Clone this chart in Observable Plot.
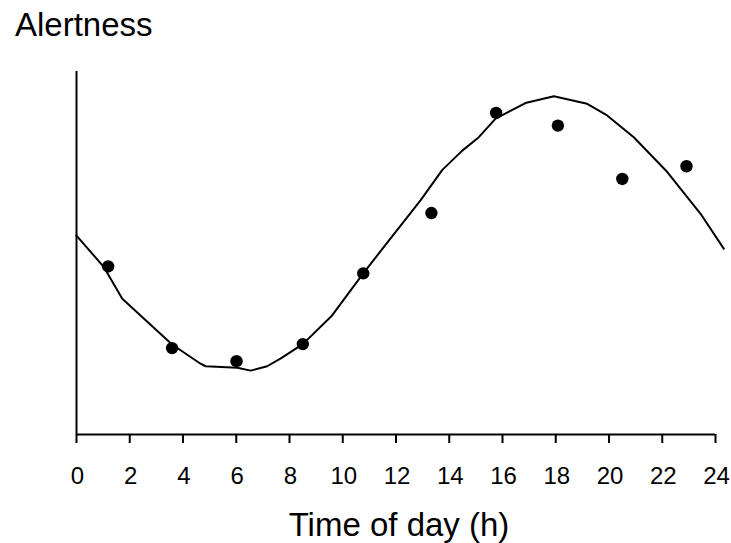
<!DOCTYPE html>
<html>
<head>
<meta charset="utf-8">
<script src="https://cdn.jsdelivr.net/npm/d3@7"></script>
<script src="https://cdn.jsdelivr.net/npm/@observablehq/plot@0.6"></script>
<style>
  html, body { margin: 0; padding: 0; background: #fff; }
  body { width: 731px; height: 543px; overflow: hidden; font-family: "Liberation Sans", Arial, sans-serif; }
  #title { height: 45px; box-sizing: border-box; padding-left: 15px; padding-top: 8px; font-size: 33px; line-height: 1; color: #000; }
  svg { display: block; }
</style>
</head>
<body>
<div id="title">Alertness</div>
<div id="chart"></div>
<script>
// Observed points
const obsHour  = [1.19, 3.59, 6.01, 8.50, 10.77, 13.33, 15.76, 18.08, 20.50, 22.91];
const obsAlert = [46.3, 23.8, 20.2, 24.9, 44.4, 61.0, 88.6, 85.1, 70.4, 73.9];

// Fitted curve
const curveHour  = [0, 1.03, 1.72, 3.59, 4.66, 4.85, 6.04, 6.54, 7.16, 7.66, 8.50, 9.60, 10.77, 11.73, 12.92, 13.74, 14.49, 15.11, 15.74, 16.86, 17.93, 19.18, 19.93, 20.93, 22.19, 23.44, 24.31];
const curveAlert = [54.8, 46.1, 37.4, 24.8, 19.5, 18.8, 18.4, 17.6, 18.8, 20.9, 24.9, 32.8, 44.4, 53.4, 64.5, 72.9, 78.2, 81.9, 87.0, 91.3, 93.2, 91.1, 87.9, 81.9, 72.3, 60.8, 51.2];

const xTicks = [0, 2, 4, 6, 8, 10, 12, 14, 16, 18, 20, 22, 24];
const xLabel = "Time of day (h)";

const obs = obsHour.map((h, i) => ({hour: h, alert: obsAlert[i]}));
const curve = curveHour.map((h, i) => ({hour: h, alert: curveAlert[i]}));

const chart = Plot.plot({
  width: 731,
  height: 498,
  marginLeft: 76,
  marginRight: 16,
  marginTop: 26,
  marginBottom: 109,
  style: {fontFamily: "'Liberation Sans', Arial, sans-serif", color: "#000", background: "#fff", overflow: "visible"},
  x: {domain: [0, 24]},
  y: {domain: [0, 100], axis: null},
  marks: [
    Plot.ruleY([0], {stroke: "#000", strokeWidth: 2}),
    Plot.ruleX([0], {stroke: "#000", strokeWidth: 2}),
    Plot.axisX(xTicks, {tickSize: 9, text: null, label: null, stroke: "#000", strokeWidth: 2}),
    Plot.text(xTicks, {x: d => d, text: d => String(d), frameAnchor: "bottom", lineAnchor: "top", dy: 32, dx: 1, fontSize: 24, fill: "#000"}),
    Plot.line(curve, {x: "hour", y: "alert", stroke: "#000", strokeWidth: 2}),
    Plot.dot(obs, {x: "hour", y: "alert", r: 6.2, fill: "#000", stroke: "none"}),
    Plot.text([xLabel], {frameAnchor: "bottom", lineAnchor: "top", dy: 78, dx: 3, fontSize: 33, fill: "#000"})
  ]
});
document.getElementById("chart").appendChild(chart);
</script>
</body>
</html>
